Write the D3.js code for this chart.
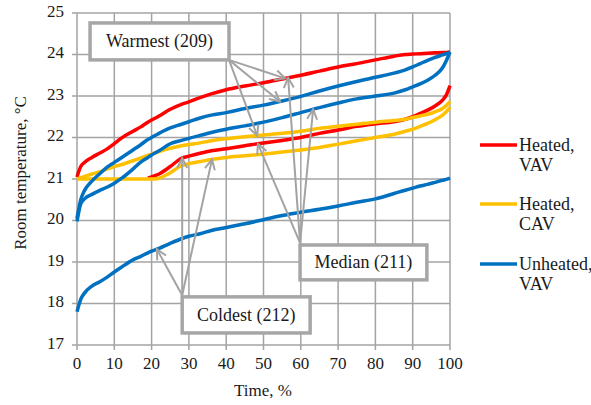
<!DOCTYPE html>
<html>
<head>
<meta charset="utf-8">
<script src="https://cdn.jsdelivr.net/npm/d3@7"></script>
<style>
  html, body { margin: 0; padding: 0; background: #fff; }
  svg { display: block; }
  svg text { font-family: "Liberation Serif", "DejaVu Serif", "Times New Roman", serif; }
</style>
</head>
<body>
<svg id="chart" width="591" height="405"></svg>
<script>
// Share of time (%) at which each room temperature is reached or exceeded
const timePct = [0, 1, 2, 4, 6, 8, 10, 12, 15, 17, 19, 20, 22, 25, 28, 30, 33, 36, 40, 45, 50, 55, 60, 65, 70, 75, 80, 85, 88, 90, 92, 94, 96, 98, 99, 100];

// Heated, VAV
const heatedVavWarm = [21.05, 21.3, 21.4, 21.52, 21.62, 21.72, 21.85, 21.99, 22.15, 22.25, 22.37, 22.42, 22.52, 22.68, 22.8, 22.86, 22.96, 23.05, 23.15, 23.24, 23.32, 23.41, 23.5, 23.6, 23.7, 23.78, 23.87, 23.96, 24.0, 24.01, 24.02, 24.03, 24.04, 24.05, 24.05, 24.06];
const heatedVavCold = [null, null, null, null, null, null, null, null, null, null, 21.02, 21.05, 21.12, 21.3, 21.5, 21.55, 21.62, 21.68, 21.73, 21.8, 21.87, 21.93, 22.0, 22.1, 22.18, 22.27, 22.33, 22.38, 22.44, 22.5, 22.58, 22.66, 22.76, 22.9, 23.02, 23.25];

// Heated, CAV
const heatedCavWarm = [21.0, 21.03, 21.06, 21.12, 21.17, 21.24, 21.3, 21.35, 21.44, 21.5, 21.57, 21.6, 21.66, 21.74, 21.8, 21.83, 21.87, 21.92, 21.97, 22.02, 22.06, 22.1, 22.15, 22.22, 22.27, 22.32, 22.37, 22.41, 22.44, 22.48, 22.52, 22.56, 22.62, 22.7, 22.77, 22.87];
const heatedCavCold = [21.0, 21.0, 21.0, 21.0, 21.0, 21.0, 21.0, 21.0, 21.0, 21.0, 21.0, 21.0, 21.02, 21.15, 21.32, 21.37, 21.42, 21.47, 21.52, 21.56, 21.6, 21.65, 21.7, 21.76, 21.84, 21.92, 22.0, 22.08, 22.15, 22.2, 22.27, 22.34, 22.43, 22.54, 22.62, 22.73];

// Unheated, VAV
const unheatedVavWarm = [20.05, 20.5, 20.72, 20.95, 21.12, 21.28, 21.4, 21.52, 21.7, 21.82, 21.95, 22.0, 22.1, 22.23, 22.32, 22.38, 22.47, 22.54, 22.6, 22.7, 22.78, 22.88, 22.99, 23.12, 23.24, 23.35, 23.45, 23.55, 23.63, 23.7, 23.78, 23.86, 23.93, 23.99, 24.02, 24.06];
const unheatedVavMedian = [19.98, 20.4, 20.52, 20.63, 20.72, 20.8, 20.9, 21.02, 21.24, 21.4, 21.52, 21.58, 21.68, 21.85, 21.93, 21.98, 22.05, 22.12, 22.2, 22.28, 22.37, 22.48, 22.6, 22.72, 22.83, 22.93, 23.0, 23.07, 23.15, 23.22, 23.29, 23.38, 23.5, 23.68, 23.85, 24.06];
const unheatedVavCold = [17.8, 18.1, 18.25, 18.42, 18.52, 18.63, 18.76, 18.88, 19.05, 19.13, 19.22, 19.26, 19.33, 19.45, 19.56, 19.62, 19.68, 19.76, 19.83, 19.92, 20.02, 20.12, 20.2, 20.27, 20.35, 20.44, 20.52, 20.65, 20.73, 20.78, 20.83, 20.87, 20.92, 20.97, 20.99, 21.02];

const xTicks = [0, 10, 20, 30, 40, 50, 60, 70, 80, 90, 100];
const yTicks = [17, 18, 19, 20, 21, 22, 23, 24, 25];

const legendLabels = [["Heated,", "VAV"], ["Heated,", "CAV"], ["Unheated,", "VAV"]];
const legendColors = ["#ff0000", "#ffc000", "#0070c0"];

// Curves in drawing order: red first, then yellow, then blue
const curves = [
  { values: heatedVavWarm, color: legendColors[0] },
  { values: heatedVavCold, color: legendColors[0] },
  { values: heatedCavWarm, color: legendColors[1] },
  { values: heatedCavCold, color: legendColors[1] },
  { values: unheatedVavWarm, color: legendColors[2] },
  { values: unheatedVavMedian, color: legendColors[2] },
  { values: unheatedVavCold, color: legendColors[2] }
];

// Callout boxes: [t0, t1, top, bottom] in data units, arrow origin, and the curve points they point at
const callouts = [
  { label: "Warmest (209)", box: [3.5, 40.75, 24.76, 23.87], origin: [40.75, 23.87],
    targets: [[heatedVavWarm, 55.8], [unheatedVavWarm, 54.4], [heatedCavWarm, 48.3]] },
  { label: "Median (211)", box: [59.8, 93.8, 19.41, 18.57], origin: [59.8, 19.46],
    targets: [[heatedVavWarm, 56.6], [unheatedVavMedian, 63.3], [heatedVavCold, 48.5]] },
  { label: "Coldest (212)", box: [28.2, 62.5, 18.16, 17.29], origin: [28.2, 18.2],
    targets: [[unheatedVavCold, 21.4], [heatedVavCold, 28.2], [heatedCavCold, 36.2]] }
];

const svg = d3.select("#chart");
const x = d3.scaleLinear().domain([0, 100]).range([77, 450]);
const y = d3.scaleLinear().domain([17, 25]).range([345, 13]);
const gridColor = "#a3a3a3";
const textColor = "#1a1a1a";
const serif = "'Liberation Serif', 'DejaVu Serif', serif";

// Gridlines
svg.append("g").selectAll("line").data(xTicks).join("line")
  .attr("x1", d => x(d)).attr("x2", d => x(d))
  .attr("y1", y(25)).attr("y2", y(17) + 5)
  .attr("stroke", gridColor).attr("stroke-width", 1.5);
svg.append("g").selectAll("line").data(yTicks).join("line")
  .attr("x1", x(0) - 5).attr("x2", x(100))
  .attr("y1", d => y(d)).attr("y2", d => y(d))
  .attr("stroke", gridColor).attr("stroke-width", 1.5);

// Tick labels
svg.append("g").selectAll("text").data(xTicks).join("text")
  .attr("x", d => x(d)).attr("y", y(17) + 20)
  .attr("text-anchor", "middle").attr("dominant-baseline", "middle")
  .attr("font-family", serif).attr("font-size", 17).attr("fill", textColor)
  .text(d => d);
svg.append("g").selectAll("text").data(yTicks).join("text")
  .attr("x", x(0) - 13).attr("y", d => y(d))
  .attr("text-anchor", "end").attr("dominant-baseline", "middle")
  .attr("font-family", serif).attr("font-size", 17).attr("fill", textColor)
  .text(d => d);

// Axis titles
svg.append("text")
  .attr("x", 263).attr("y", 396)
  .attr("text-anchor", "middle")
  .attr("font-family", serif).attr("font-size", 17).attr("fill", textColor)
  .text("Time, %");
svg.append("text")
  .attr("transform", "translate(26,173) rotate(-90)")
  .attr("text-anchor", "middle")
  .attr("font-family", serif).attr("font-size", 17).attr("fill", textColor)
  .text("Room temperature, \u00B0C");

// Temperature duration curves
const line = d3.line()
  .defined(d => d[1] != null)
  .x(d => x(d[0])).y(d => y(d[1]))
  .curve(d3.curveMonotoneX);

svg.append("g").selectAll("path").data(curves).join("path")
  .attr("d", c => line(timePct.map((t, i) => [t, c.values[i]])))
  .attr("fill", "none")
  .attr("stroke", c => c.color)
  .attr("stroke-width", 3.5)
  .attr("stroke-linejoin", "round");

// Value of a curve at a given time share
function valueAt(values, t) {
  const pts = timePct.map((tt, i) => [tt, values[i]]).filter(p => p[1] != null);
  const i = d3.bisector(p => p[0]).left(pts, t);
  if (i <= 0) return pts[0][1];
  if (i >= pts.length) return pts[pts.length - 1][1];
  const a = pts[i - 1], b = pts[i];
  return a[1] + (b[1] - a[1]) * (t - a[0]) / (b[0] - a[0]);
}

// Open arrowheads
svg.append("defs").append("marker")
  .attr("id", "arrow").attr("markerUnits", "userSpaceOnUse")
  .attr("viewBox", "-12 -7 14 14")
  .attr("markerWidth", 14).attr("markerHeight", 14)
  .attr("refX", 0).attr("refY", 0).attr("orient", "auto")
  .append("path")
  .attr("d", "M-10,-5 L0,0 L-10,5")
  .attr("fill", "none").attr("stroke", gridColor).attr("stroke-width", 2)
  .attr("stroke-linejoin", "miter");

const callG = svg.append("g");
callouts.forEach(c => {
  c.targets.forEach(([vals, t]) => {
    callG.append("line")
      .attr("x1", x(c.origin[0])).attr("y1", y(c.origin[1]))
      .attr("x2", x(t)).attr("y2", y(valueAt(vals, t)))
      .attr("stroke", gridColor).attr("stroke-width", 2)
      .attr("marker-end", "url(#arrow)");
  });
});
callouts.forEach(c => {
  const [t0, t1, top, bottom] = c.box;
  callG.append("rect")
    .attr("x", x(t0)).attr("y", y(top))
    .attr("width", x(t1) - x(t0)).attr("height", y(bottom) - y(top))
    .attr("fill", "#fff").attr("stroke", "#a6a6a6").attr("stroke-width", 3.5);
  callG.append("text")
    .attr("x", (x(t0) + x(t1)) / 2).attr("y", (y(top) + y(bottom)) / 2)
    .attr("text-anchor", "middle").attr("dominant-baseline", "central")
    .attr("font-family", serif).attr("font-size", 18).attr("fill", textColor)
    .text(c.label);
});

// Legend
const legendY = [145, 204, 264];
const leg = svg.append("g").selectAll("g").data(legendLabels).join("g")
  .attr("transform", (d, i) => `translate(480,${legendY[i]})`);
leg.append("line")
  .attr("x1", 0).attr("x2", 37).attr("y1", 0).attr("y2", 0)
  .attr("stroke", (d, i) => legendColors[i]).attr("stroke-width", 3.5);
leg.append("text")
  .attr("x", 39).attr("y", 0).attr("dominant-baseline", "central")
  .attr("font-family", serif).attr("font-size", 18).attr("fill", textColor)
  .selectAll("tspan").data(d => d).join("tspan")
  .attr("x", 39).attr("dy", (d, i) => i === 0 ? 0 : 20)
  .text(d => d);
</script>
</body>
</html>
